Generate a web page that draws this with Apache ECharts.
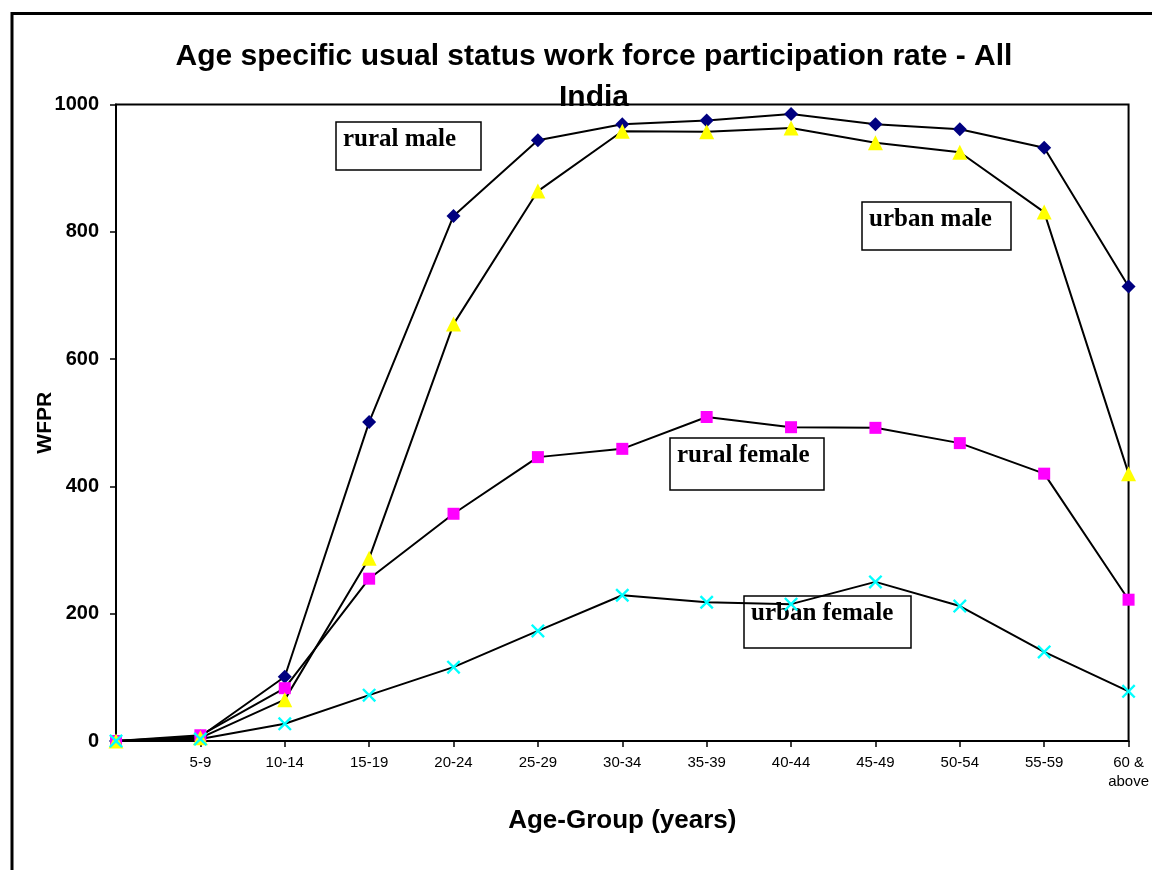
<!DOCTYPE html>
<html>
<head>
<meta charset="utf-8">
<title>Age specific usual status WFPR</title>
<script src="https://cdn.jsdelivr.net/npm/echarts@6/dist/echarts.min.js"></script>
<style>
  html, body { margin: 0; padding: 0; background: #fff; }
  #main { width: 1152px; height: 870px; }
</style>
</head>
<body>
<div id="main"></div>
<script>
var ageGroups = ['', '5-9', '10-14', '15-19', '20-24', '25-29', '30-34', '35-39', '40-44', '45-49', '50-54', '55-59', '60 &\nabove'];
var yTicks = [0, 200, 400, 600, 800, 1000];

var ruralMale = [0, 7, 101, 501, 825, 944, 969, 975, 985, 969, 961, 932, 714];
var ruralFemale = [0, 9, 83, 255, 357, 446, 459, 509, 493, 492, 468, 420, 222];
var urbanMale = [0, 5, 65, 287, 655, 864, 958, 957, 963, 940, 925, 831, 420];
var urbanFemale = [0, 3, 27, 72, 116, 173, 229, 218, 215, 250, 212, 140, 78];

(function() {
  var chart = echarts.init(document.getElementById('main'));
  // cross marker, filled outline so it picks up the series colour
  var CROSS = 'path://M0,1.2L1.2,0L5,3.8L8.8,0L10,1.2L6.2,5L10,8.8L8.8,10L5,6.2L1.2,10L0,8.8L3.8,5Z';

  function makeSeries(name, data, symbol, size, color) {
    return {
      name: name,
      type: 'line',
      data: data,
      symbol: symbol,
      symbolSize: size,
      showAllSymbol: true,
      itemStyle: { color: color, opacity: 1 },
      lineStyle: { color: '#000', width: 2 },
      emphasis: { disabled: true },
      animation: false
    };
  }

  function note(text, x, y, w, h) {
    return {
      type: 'group',
      children: [{
        type: 'rect',
        shape: { x: x, y: y, width: w, height: h },
        style: { fill: 'none', stroke: '#000', lineWidth: 1.5 }
      }, {
        type: 'text',
        x: x + 7,
        y: y + 5,
        style: {
          text: text,
          font: 'bold 25px "Liberation Serif", "Times New Roman", serif',
          fill: '#000',
          verticalAlign: 'top'
        }
      }]
    };
  }

  var option = {
    backgroundColor: '#fff',
    title: {
      text: 'Age specific usual status work force participation rate - All\nIndia',
      left: 594,
      top: 36,
      padding: 0,
      textAlign: 'center',
      textStyle: {
        fontFamily: 'Arial, "Liberation Sans", sans-serif',
        fontWeight: 'bold',
        fontSize: 30,
        lineHeight: 41,
        color: '#000'
      }
    },
    grid: {
      left: 116,
      right: 22,
      top: 104.5,
      bottom: 129,
      show: true,
      borderColor: '#000',
      borderWidth: 2,
      containLabel: false
    },
    xAxis: {
      type: 'category',
      data: ageGroups,
      boundaryGap: false,
      name: 'Age-Group (years)',
      nameLocation: 'middle',
      nameGap: 67,
      nameTextStyle: {
        fontFamily: 'Arial, "Liberation Sans", sans-serif',
        fontWeight: 'bold',
        fontSize: 26,
        color: '#000'
      },
      axisLine: { lineStyle: { color: '#000', width: 2 } },
      axisTick: { show: true, length: 6, lineStyle: { color: '#000', width: 1.5 } },
      axisLabel: {
        interval: 0,
        margin: 12,
        fontFamily: 'Arial, "Liberation Sans", sans-serif',
        fontSize: 15,
        lineHeight: 19,
        color: '#000'
      },
      splitLine: { show: false }
    },
    yAxis: {
      type: 'value',
      min: yTicks[0],
      max: yTicks[yTicks.length - 1],
      interval: 200,
      name: 'WFPR',
      nameLocation: 'middle',
      nameGap: 60,
      nameMoveOverlap: false,
      nameTextStyle: {
        fontFamily: 'Arial, "Liberation Sans", sans-serif',
        fontWeight: 'bold',
        fontSize: 21,
        color: '#000'
      },
      axisLine: { show: true, lineStyle: { color: '#000', width: 2 } },
      axisTick: { show: true, length: 6, lineStyle: { color: '#000', width: 1.5 } },
      axisLabel: {
        margin: 17,
        formatter: function(v) { return String(v); },
        fontFamily: 'Arial, "Liberation Sans", sans-serif',
        fontWeight: 'bold',
        fontSize: 20,
        color: '#000'
      },
      splitLine: { show: false }
    },
    series: [
      makeSeries('rural male', ruralMale, 'diamond', 14, '#000080'),
      makeSeries('rural female', ruralFemale, 'rect', 12, '#FF00FF'),
      makeSeries('urban male', urbanMale, 'triangle', 15, '#FFFF00'),
      makeSeries('urban female', urbanFemale, CROSS, 14, '#00FFFF')
    ],
    graphic: [
      {
        type: 'rect',
        shape: { x: 12, y: 13.5, width: 1160, height: 880 },
        style: { fill: 'none', stroke: '#000', lineWidth: 3 }
      },
      note('rural male', 336, 122, 145, 48),
      note('urban male', 862, 202, 149, 48),
      note('rural female', 670, 438, 154, 52),
      note('urban female', 744, 596, 167, 52)
    ]
  };

  chart.setOption(option);
})();
</script>
</body>
</html>
